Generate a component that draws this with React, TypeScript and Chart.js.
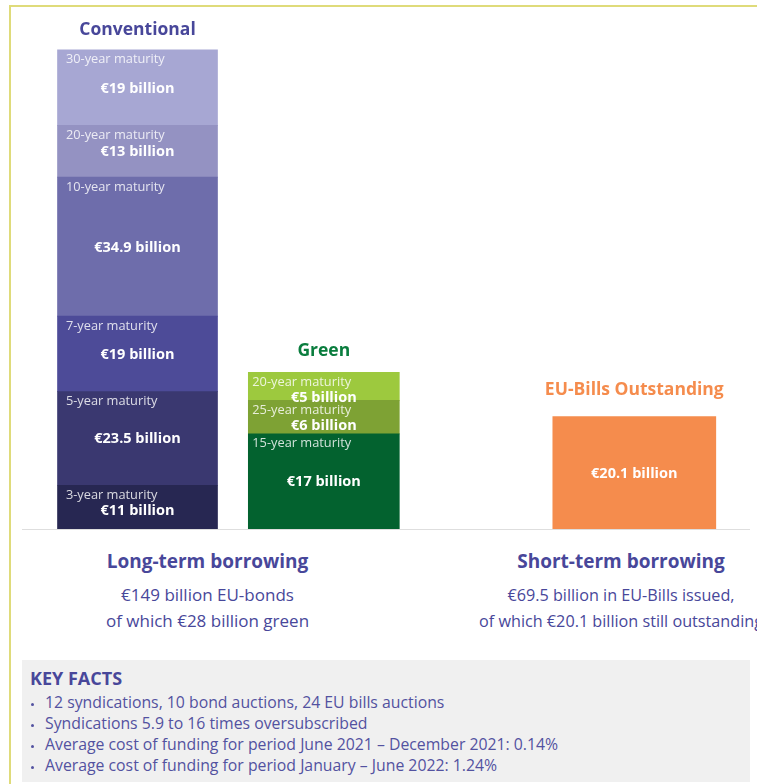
import React, { useEffect, useRef } from 'react';
import { Chart, registerables } from 'chart.js';

Chart.register(...registerables);

// ---------- data ----------
const categories = ['Conventional', 'Green', 'EU-Bills Outstanding'];

const conventionalMaturities = ['3-year maturity', '5-year maturity', '7-year maturity', '10-year maturity', '20-year maturity', '30-year maturity'];
const conventionalValues = [11, 23.5, 19, 34.9, 13, 19];

const greenMaturities = ['15-year maturity', '25-year maturity', '20-year maturity'];
const greenValues = [17, 6, 5];

const billsMaturities = [''];
const billsValues = [20.1];

const longTermTitle = 'Long-term borrowing';
const longTermLines = ['€149 billion EU-bonds', 'of which €28 billion green'];
const shortTermTitle = 'Short-term borrowing';
const shortTermLines = ['€69.5 billion in EU-Bills issued,', 'of which €20.1 billion still outstanding'];

const keyFactsTitle = 'KEY FACTS';
const keyFacts = [
  '12 syndications, 10 bond auctions, 24 EU bills auctions',
  'Syndications 5.9 to 16 times oversubscribed',
  'Average cost of funding for period June 2021 – December 2021: 0.14%',
  'Average cost of funding for period January – June 2022: 1.24%',
];

// ---------- styles / layout ----------
const FONT = '"Open Sans", "Noto Sans", sans-serif';
const BLUE = '#48479a';
const conventionalColors = ['#272752', '#3a3870', '#4d4b98', '#6e6dab', '#9492c2', '#a7a7d3'];
const greenColors = ['#03622f', '#7ea234', '#9dc93e'];
const billsColors = ['#f58c4d'];

const categoryStyle = [
  { slot: 0, axis: 'y', thickness: 160, inset: 8.4, titleColor: BLUE, titleGap: 14.5 },
  { slot: 3, axis: 'y2', thickness: 151, inset: 4, titleColor: '#0a7d3e', titleGap: 16 },
  { slot: 8, axis: 'y2', thickness: 163, inset: 8, titleColor: '#f58c4d', titleGap: 21.5 },
];

const groups = [
  { maturities: conventionalMaturities, values: conventionalValues, colors: conventionalColors },
  { maturities: greenMaturities, values: greenValues, colors: greenColors },
  { maturities: billsMaturities, values: billsValues, colors: billsColors },
];

function buildDatasets() {
  const out: any[] = [];
  groups.forEach((g, ci) => {
    g.values.forEach((v, i) => {
      out.push({
        label: g.maturities[i] || categories[ci],
        data: [{ x: categoryStyle[ci].slot, y: v }],
        backgroundColor: g.colors[i],
        yAxisID: categoryStyle[ci].axis,
        barThickness: categoryStyle[ci].thickness,
        borderWidth: 0,
        maturity: g.maturities[i],
        category: ci,
      });
    });
  });
  return out;
}

const labelPlugin = {
  id: 'segmentLabels',
  afterDatasetsDraw(chart: any) {
    const ctx = chart.ctx;
    const area = chart.chartArea;
    ctx.save();
    // baseline
    ctx.strokeStyle = '#dedede';
    ctx.lineWidth = 1;
    ctx.beginPath();
    ctx.moveTo(area.left, area.bottom + 0.5);
    ctx.lineTo(area.right, area.bottom + 0.5);
    ctx.stroke();

    const tops: number[] = categories.map(() => Infinity);
    const centers: number[] = categories.map(() => 0);

    chart.data.datasets.forEach((ds: any, di: number) => {
      const meta = chart.getDatasetMeta(di);
      const bar = meta.data[0];
      if (!bar) return;
      const { x, y, base, width } = bar.getProps(['x', 'y', 'base', 'width'], true);
      const st = categoryStyle[ds.category];
      const labelBase = y + 13.5;
      if (ds.maturity) {
        ctx.font = `12.8px ${FONT}`;
        ctx.fillStyle = 'rgba(255,255,255,0.82)';
        ctx.textAlign = 'left';
        ctx.textBaseline = 'alphabetic';
        ctx.fillText(ds.maturity, x - width / 2 + st.inset, labelBase);
      }
      const center = (y + base) / 2 + 5;
      const valueY = ds.maturity ? Math.max(center, labelBase + 16) : center;
      ctx.font = `bold 14.5px ${FONT}`;
      ctx.fillStyle = '#ffffff';
      ctx.textAlign = 'center';
      ctx.textBaseline = 'alphabetic';
      ctx.fillText(`€${ds.data[0].y} billion`, x, valueY);
      tops[ds.category] = Math.min(tops[ds.category], y);
      centers[ds.category] = x;
    });

    categories.forEach((c, ci) => {
      ctx.font = `bold 17.5px ${FONT}`;
      ctx.fillStyle = categoryStyle[ci].titleColor;
      ctx.textAlign = 'center';
      ctx.textBaseline = 'alphabetic';
      ctx.fillText(c, centers[ci], tops[ci] - categoryStyle[ci].titleGap);
    });
    ctx.restore();
  },
};

function TextLine({ text, cx, baseline, size, bold, color }: any) {
  return (
    <div
      style={{
        position: 'absolute',
        left: cx - 300,
        width: 600,
        top: baseline - 0.888 * size,
        textAlign: 'center',
        fontSize: size,
        lineHeight: `${size}px`,
        fontWeight: bold ? 700 : 400,
        color,
        whiteSpace: 'nowrap',
      }}
    >
      {text}
    </div>
  );
}

export default function App() {
  const canvasRef = useRef<HTMLCanvasElement | null>(null);

  useEffect(() => {
    if (!canvasRef.current) return;
    const chart = new Chart(canvasRef.current, {
      type: 'bar',
      data: { datasets: buildDatasets() },
      options: {
        responsive: false,
        animation: false,
        devicePixelRatio: 1,
        layout: { padding: { left: 22, right: 7, top: 9, bottom: 11 } },
        plugins: { legend: { display: false }, tooltip: { enabled: false } },
        scales: {
          x: { type: 'linear', min: -1.86, max: 9.863, offset: false, stacked: true, display: false },
          y: { stacked: true, min: 0, max: 130.65, display: false },
          y2: { stacked: true, min: 0, max: 93.0, display: false },
        },
      } as any,
      plugins: [labelPlugin],
    });
    const fonts: any = (document as any).fonts;
    if (fonts && fonts.load) {
      Promise.all([
        fonts.load(`bold 14px ${FONT}`),
        fonts.load(`14px ${FONT}`),
      ]).then(() => chart.draw()).catch(() => {});
    }
    return () => chart.destroy();
  }, []);

  return (
    <div
      style={{
        position: 'absolute',
        left: 0,
        top: 0,
        width: 757,
        height: 784,
        overflow: 'hidden',
        background: '#ffffff',
        fontFamily: FONT,
      }}
    >
      <div
        style={{
          position: 'absolute',
          left: 9,
          top: 5,
          right: -10,
          bottom: -10,
          borderTop: '2px solid #dfdb7a',
          borderLeft: '2px solid #dfdb7a',
        }}
      />
      <canvas ref={canvasRef} width={757} height={540} style={{ position: 'absolute', left: 0, top: 0 }} />

      <TextLine text={longTermTitle} cx={207.5} baseline={568.5} size={19} bold color={BLUE} />
      <TextLine text={longTermLines[0]} cx={207.5} baseline={601.5} size={17} color={BLUE} />
      <TextLine text={longTermLines[1]} cx={207.5} baseline={627} size={17} color={BLUE} />

      <TextLine text={shortTermTitle} cx={621} baseline={568.5} size={19} bold color={BLUE} />
      <TextLine text={shortTermLines[0]} cx={621} baseline={601.5} size={16.2} color={BLUE} />
      <TextLine text={shortTermLines[1]} cx={621} baseline={627} size={16.2} color={BLUE} />

      <div style={{ position: 'absolute', left: 22, top: 660, width: 728, height: 122, background: '#f0f0f0' }} />
      <div
        style={{
          position: 'absolute',
          left: 30,
          top: 685 - 0.888 * 18,
          fontSize: 18,
          lineHeight: '18px',
          fontWeight: 700,
          color: BLUE,
          whiteSpace: 'nowrap',
        }}
      >
        {keyFactsTitle}
      </div>
      {keyFacts.map((f, i) => {
        const baseline = 709 + i * 21;
        return (
          <React.Fragment key={i}>
            <div
              style={{
                position: 'absolute',
                left: 30.5,
                top: baseline - 6.5,
                width: 3,
                height: 3,
                borderRadius: 2,
                background: '#5352a0',
              }}
            />
            <div
              style={{
                position: 'absolute',
                left: 45,
                top: baseline - 0.888 * 15.8,
                fontSize: 15.8,
                lineHeight: '15.8px',
                color: '#5352a0',
                whiteSpace: 'nowrap',
              }}
            >
              {f}
            </div>
          </React.Fragment>
        );
      })}
    </div>
  );
}
